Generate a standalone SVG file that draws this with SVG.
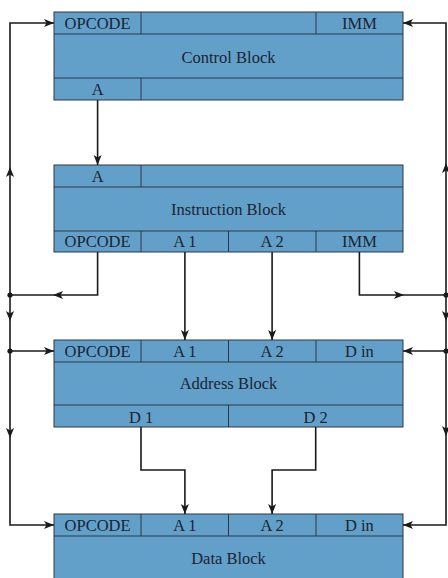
<svg xmlns="http://www.w3.org/2000/svg" width="448" height="578" viewBox="0 0 448 578">
<style>
.box{fill:#62a0ca;stroke:#2a3845;stroke-width:1}
.div{stroke:#2a3845;stroke-width:1;fill:none}
.t{font-family:"Liberation Serif","Times New Roman",serif;font-size:16.5px;fill:#1c2430;text-anchor:middle}
.w{fill:none;stroke:#1a1a1a;stroke-width:1.6}
.dot{fill:#1a1a1a}
</style>
<defs>
<marker id="ah" markerUnits="userSpaceOnUse" markerWidth="12" markerHeight="10" refX="10" refY="4" orient="auto">
<path d="M0,0 L10,4 L0,8 L2.5,4 z" fill="#1a1a1a"/>
</marker>
</defs>
<rect x="0" y="0" width="448" height="578" fill="#ffffff"/>

<g id="control">
<rect class="box" x="54" y="12" width="349" height="88"/>
<path class="div" d="M54,34 H403 M54,78 H403 M141,12 V34 M316,12 V34 M141,78 V100"/>
<text class="t" x="97.6" y="29">OPCODE</text>
<text class="t" x="359.4" y="29">IMM</text>
<text class="t" x="228.5" y="62.5">Control Block</text>
<text class="t" x="97.6" y="95">A</text>
</g>

<g id="instruction">
<rect class="box" x="54" y="165" width="349" height="87"/>
<path class="div" d="M54,187 H403 M54,231 H403 M141,165 V187 M141,231 V252 M228.5,231 V252 M316,231 V252"/>
<text class="t" x="97.6" y="182">A</text>
<text class="t" x="228.5" y="215">Instruction Block</text>
<text class="t" x="97.6" y="247.3">OPCODE</text>
<text class="t" x="184.9" y="247.3">A 1</text>
<text class="t" x="272.1" y="247.3">A 2</text>
<text class="t" x="359.4" y="247.3">IMM</text>
</g>

<g id="address">
<rect class="box" x="54" y="340" width="349" height="87"/>
<path class="div" d="M54,362 H403 M54,405 H403 M141,340 V362 M228.5,340 V362 M316,340 V362 M228.5,405 V427"/>
<text class="t" x="97.6" y="356.5">OPCODE</text>
<text class="t" x="184.9" y="356.5">A 1</text>
<text class="t" x="272.1" y="356.5">A 2</text>
<text class="t" x="359.4" y="356.5">D in</text>
<text class="t" x="228.5" y="389">Address Block</text>
<text class="t" x="141.2" y="422.5">D 1</text>
<text class="t" x="315.7" y="422.5">D 2</text>
</g>

<g id="data">
<rect class="box" x="54" y="514" width="349" height="80"/>
<path class="div" d="M54,536 H403 M141,514 V536 M228.5,514 V536 M316,514 V536"/>
<text class="t" x="97.6" y="530.7">OPCODE</text>
<text class="t" x="184.9" y="530.7">A 1</text>
<text class="t" x="272.1" y="530.7">A 2</text>
<text class="t" x="359.4" y="530.7">D in</text>
<text class="t" x="228.5" y="564">Data Block</text>
</g>

<g id="connectors">
<path class="w" d="M97.6,100 V165" marker-end="url(#ah)"/>
<path class="w" d="M184.9,252 V340" marker-end="url(#ah)"/>
<path class="w" d="M272.1,252 V340" marker-end="url(#ah)"/>
<path class="w" d="M141,427 V470 H184.9 V514" marker-end="url(#ah)"/>
<path class="w" d="M315.7,427 V470 H272.1 V514" marker-end="url(#ah)"/>

<path class="w" d="M97.6,252 V295 H53" marker-end="url(#ah)"/>
<path class="w" d="M53,295 H10"/>
<path class="w" d="M10,295 V167" marker-end="url(#ah)"/>
<path class="w" d="M10,167 V23 H54" marker-end="url(#ah)"/>
<path class="w" d="M10,295 V321" marker-end="url(#ah)"/>
<path class="w" d="M10,321 V351"/>
<path class="w" d="M10,351 H54" marker-end="url(#ah)"/>
<path class="w" d="M10,351 V438" marker-end="url(#ah)"/>
<path class="w" d="M10,438 V525 H54" marker-end="url(#ah)"/>

<path class="w" d="M359.4,252 V295 H404" marker-end="url(#ah)"/>
<path class="w" d="M404,295 H446"/>
<path class="w" d="M446,295 V163" marker-end="url(#ah)"/>
<path class="w" d="M446,163 V23 H403" marker-end="url(#ah)"/>
<path class="w" d="M446,295 V321" marker-end="url(#ah)"/>
<path class="w" d="M446,321 V351"/>
<path class="w" d="M446,351 H403" marker-end="url(#ah)"/>
<path class="w" d="M446,351 V436" marker-end="url(#ah)"/>
<path class="w" d="M446,436 V525 H403" marker-end="url(#ah)"/>

<circle class="dot" cx="10" cy="295" r="2.6"/>
<circle class="dot" cx="10" cy="351" r="2.6"/>
<circle class="dot" cx="446" cy="295" r="2.6"/>
<circle class="dot" cx="446" cy="351" r="2.6"/>
</g>
</svg>
